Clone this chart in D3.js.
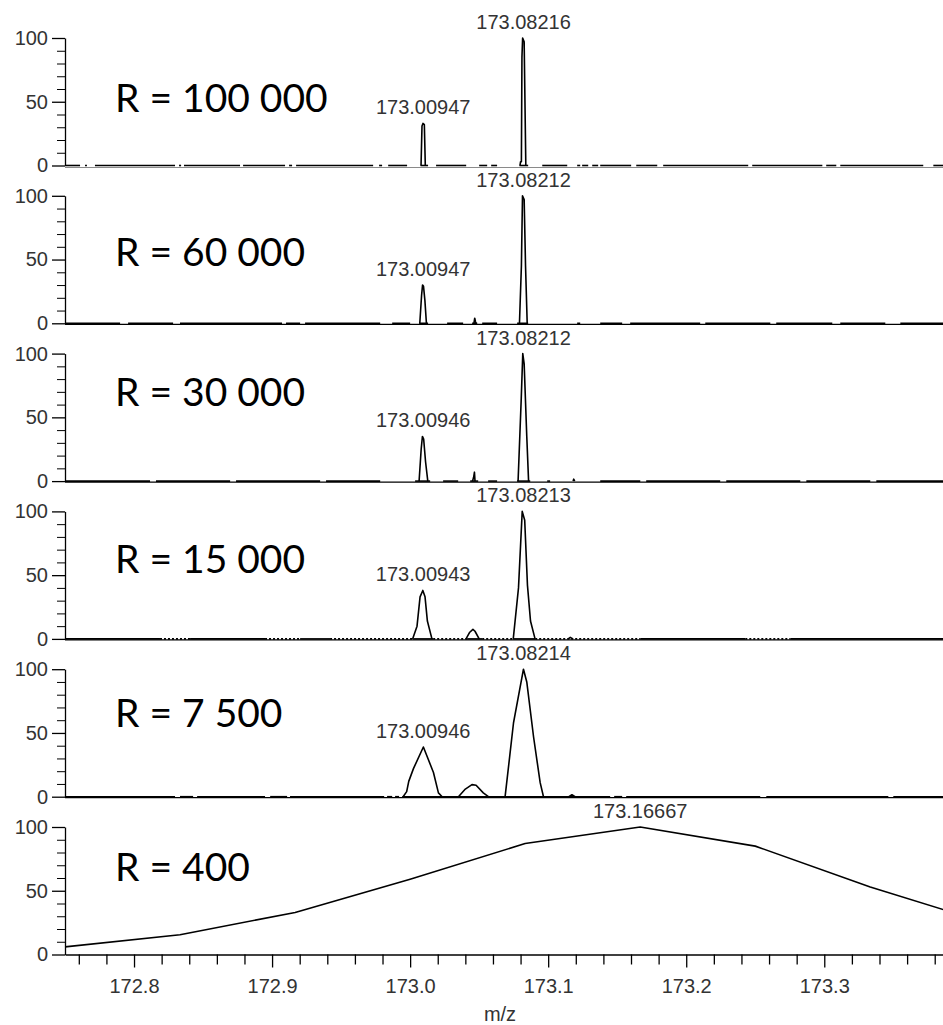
<!DOCTYPE html>
<html>
<head>
<meta charset="utf-8">
<script src="https://cdn.jsdelivr.net/npm/d3@7"></script>
<style>
  body { margin: 0; background: #fff; }
  svg { display: block; }
  .tick text { font-family: "Liberation Sans", Arial, sans-serif; font-size: 20px; fill: #333; }
  .peak-label { font-family: "Liberation Sans", Arial, sans-serif; font-size: 20px; fill: #333; }
  .title { font-family: Lato, "Open Sans", sans-serif; font-size: 39px; fill: #000; }
  .trace { fill: none; stroke: #000; stroke-width: 1.6; stroke-linejoin: round; }
</style>
</head>
<body>
<div id="chart"></div>
<script>
const width = 943;
const height = 1025;
const margin = { top: 38, right: 0, bottom: 70, left: 65 };
const panelStep = 157.8;
const panelHeight = 127.5;

// m/z range shown on the shared x axis
const mzDomain = [172.75, 173.386];
const xMajorTicks = [172.8, 172.9, 173.0, 173.1, 173.2, 173.3];
const xMinorTicks = [172.76, 172.78, 172.82, 172.84, 172.86, 172.88, 172.92, 172.94, 172.96, 172.98,
  173.02, 173.04, 173.06, 173.08, 173.12, 173.14, 173.16, 173.18, 173.22, 173.24, 173.26, 173.28,
  173.32, 173.34, 173.36, 173.38];
const yMajorTicks = [0, 50, 100];
const yMinorTicks = [10, 20, 30, 40, 60, 70, 80, 90];

const resolutions = ["R = 100 000", "R = 60 000", "R = 30 000", "R = 15 000", "R = 7 500", "R = 400"];

// peak profiles, [m/z, relative intensity]
const peaks100k = [
  [[173.0079, 0], [173.0086, 31], [173.0093, 33], [173.0103, 32], [173.0110, 0]],
  [[173.0796, 0], [173.0800, 3], [173.0806, 3], [173.0810, 85], [173.0815, 100], [173.0826, 97], [173.0838, 0]]
];
const peaks60k = [
  [[173.0070, 0], [173.0083, 22], [173.0090, 30], [173.0097, 29], [173.0107, 18], [173.0118, 0]],
  [[173.0462, 0], [173.0468, 4], [173.0474, 1], [173.0478, 0]],
  [[173.0792, 0], [173.0806, 45], [173.0814, 100], [173.0826, 97], [173.0836, 45], [173.0848, 0]]
];
const peaks30k = [
  [[173.0065, 0], [173.0080, 25], [173.0089, 35], [173.0098, 33], [173.0112, 15], [173.0128, 0]],
  [[173.0452, 0], [173.0460, 3], [173.0466, 7], [173.0470, 0]],
  [[173.0782, 0], [173.0805, 65], [173.0816, 100], [173.0826, 92], [173.0845, 35], [173.0858, 0]],
  [[173.1180, 0], [173.1185, 1.5], [173.1192, 0]]
];
const peaks15k = [
  [[173.0018, 0], [173.0050, 10], [173.0072, 33], [173.0092, 38], [173.0108, 33], [173.0125, 14], [173.0158, 0]],
  [[173.0405, 0], [173.0430, 5], [173.0455, 7.5], [173.0470, 6], [173.0500, 0]],
  [[173.0747, 0], [173.0785, 40], [173.0812, 100], [173.0830, 93], [173.0850, 42], [173.0872, 14], [173.0905, 0]],
  [[173.1145, 0], [173.1160, 1.2], [173.1180, 0]]
];
const peaks7500 = [
  [[172.9949, 0], [172.9975, 4], [172.9990, 12], [173.0024, 22], [173.0096, 39], [173.0169, 19], [173.0205, 3], [173.0232, 0]],
  [[173.0350, 0], [173.0400, 6], [173.0448, 9.5], [173.0478, 9], [173.0530, 3], [173.0567, 0]],
  [[173.0688, 0], [173.0749, 58], [173.0821, 100], [173.0845, 90], [173.0894, 47], [173.0942, 11], [173.0966, 0]],
  [[173.1150, 0], [173.1172, 1.5], [173.1195, 0]]
];
const peaks400 = [
  [[172.75, 6], [172.8333, 15.5], [172.9167, 33], [173.0, 59], [173.0833, 87], [173.16667, 100],
   [173.25, 85], [173.3333, 53], [173.4167, 25]]
];

// stretches of the zero line with no data, [from m/z, to m/z]
const gaps100k = [
  [172.7609, 172.7645], [172.7659, 172.7717], [172.8297, 172.8326], [172.8341, 172.8362],
  [172.8768, 172.8790], [172.9094, 172.9123], [172.9145, 172.9174], [172.9732, 172.9775],
  [172.9797, 172.9841], [172.9978, 173.0075], [173.0130, 173.0188], [173.0406, 173.0500],
  [173.0558, 173.0587], [173.0630, 173.0792], [173.0855, 173.0957], [173.1138, 173.1210],
  [173.1232, 173.1246], [173.1290, 173.1319], [173.1362, 173.1377], [173.1601, 173.1638],
  [173.1790, 173.1833], [173.2449, 173.2478], [173.2986, 173.3014], [173.3087, 173.3116],
  [173.3717, 173.3790]
];
const gaps60k = [
  [172.7899, 172.7957], [172.8283, 172.8333], [172.9072, 172.9101], [172.9203, 172.9239],
  [172.9783, 172.9870], [173.0000, 173.0065], [173.0130, 173.0268], [173.0384, 173.0449],
  [173.0486, 173.0522], [173.0630, 173.0775], [173.0855, 173.1210], [173.1232, 173.1377],
  [173.1536, 173.1594], [173.2101, 173.2138], [173.2609, 173.2652], [173.3058, 173.3116],
  [173.3442, 173.3551]
];
const gaps30k = [
  [172.8116, 172.8159], [172.8696, 172.8739], [172.9348, 172.9391], [172.9783, 173.0036],
  [173.0145, 173.0239], [173.0348, 173.0435], [173.0493, 173.0565], [173.0630, 173.0775],
  [173.0870, 173.0993], [173.1014, 173.1377], [173.1667, 173.1710], [173.2246, 173.2290],
  [173.2826, 173.2870], [173.3333, 173.3377]
];
const sparse15k = [
  [172.8188, 172.8406], [172.8949, 172.9203], [172.9420, 173.0022], [173.0167, 173.0413],
  [173.0522, 173.0746], [173.0906, 173.1667], [173.2428, 173.2754]
];
const gaps7500 = [
  [172.8297, 172.8333], [172.8428, 172.8457], [172.8949, 172.8986], [172.9109, 172.9130],
  [172.9812, 172.9833], [172.9870, 172.9891], [172.9920, 172.9942], [173.1449, 173.1478],
  [173.1536, 173.1565], [173.2536, 173.2580], [173.3464, 173.3500]
];

const peakLabels = [
  [["173.00947", 173.00947, 33], ["173.08216", 173.08216, 100]],
  [["173.00947", 173.00947, 30], ["173.08212", 173.08212, 100]],
  [["173.00946", 173.00946, 35], ["173.08212", 173.08212, 100]],
  [["173.00943", 173.00943, 38], ["173.08213", 173.08213, 100]],
  [["173.00946", 173.00946, 39], ["173.08214", 173.08214, 100]],
  [["173.16667", 173.16667, 100]]
];

const panels = [
  { peaks: peaks100k, gaps: gaps100k, dotted: [] },
  { peaks: peaks60k, gaps: gaps60k, dotted: [] },
  { peaks: peaks30k, gaps: gaps30k, dotted: [] },
  { peaks: peaks15k, gaps: [], dotted: sparse15k },
  { peaks: peaks7500, gaps: gaps7500, dotted: [] },
  { peaks: peaks400, gaps: null, dotted: [] }
];

// baseline of the "R = ..." text, in intensity units
const titleLevel = [42, 45, 59, 52, 55, 58];

const svg = d3.select("#chart")
  .append("svg")
  .attr("width", width)
  .attr("height", height);

const x = d3.scaleLinear()
  .domain(mzDomain)
  .range([margin.left, width - margin.right]);

function complement(intervals) {
  const segs = [];
  let start = mzDomain[0];
  intervals.forEach(([a, b]) => {
    segs.push([start, a]);
    start = b;
  });
  segs.push([start, mzDomain[1]]);
  return segs;
}

panels.forEach((panel, i) => {
  const top = margin.top + i * panelStep;
  const y = d3.scaleLinear()
    .domain([0, 100])
    .range([top + panelHeight, top]);

  const line = d3.line()
    .x(d => x(d[0]))
    .y(d => y(d[1]));

  const g = svg.append("g").attr("class", "panel");

  // zero line under the trace
  if (i < 5) {
    g.append("line")
      .attr("x1", margin.left)
      .attr("x2", width)
      .attr("y1", y(0) + (i === 0 ? 2 : 1))
      .attr("y2", y(0) + (i === 0 ? 2 : 1))
      .attr("stroke", i === 0 ? "#8a8a8a" : "#000")
      .attr("stroke-width", i === 0 ? 1 : 1.3);
  }

  // y axis, minor then major ticks
  g.append("g")
    .attr("transform", `translate(${margin.left},0)`)
    .call(d3.axisLeft(y).tickValues(yMinorTicks).tickSize(8).tickFormat(""))
    .call(a => a.select(".domain").remove())
    .selectAll("line").attr("stroke", "#000");

  g.append("g")
    .attr("transform", `translate(${margin.left},0)`)
    .call(d3.axisLeft(y).tickValues(yMajorTicks).tickSize(13).tickSizeOuter(0).tickPadding(4))
    .call(a => a.selectAll("line, path").attr("stroke", "#000").attr("stroke-width", 1.3));

  // data along the zero line
  if (panel.gaps) {
    g.selectAll(".base-solid")
      .data(complement(panel.dotted.length ? panel.dotted : panel.gaps))
      .join("path")
      .attr("class", "trace base-solid")
      .attr("d", d => line([[d[0], 0], [d[1], 0]]));

    g.selectAll(".base-dotted")
      .data(panel.dotted)
      .join("path")
      .attr("class", "trace base-dotted")
      .attr("stroke-width", 2)
      .attr("stroke-dasharray", "2,2")
      .attr("d", d => line([[d[0], 0], [d[1], 0]]));
  }

  g.selectAll(".peak")
    .data(panel.peaks)
    .join("path")
    .attr("class", "trace peak")
    .attr("d", line);

  g.selectAll(".peak-label")
    .data(peakLabels[i])
    .join("text")
    .attr("class", "peak-label")
    .attr("x", d => x(d[1]))
    .attr("y", d => y(d[2]) - 9)
    .attr("text-anchor", "middle")
    .text(d => d[0]);

  g.append("text")
    .attr("class", "title")
    .attr("x", 115)
    .attr("y", y(titleLevel[i]))
    .text(resolutions[i]);

  if (i === 5) {
    g.append("g")
      .attr("transform", `translate(0,${y(0)})`)
      .call(d3.axisBottom(x).tickValues(xMinorTicks).tickSize(10).tickFormat(""))
      .call(a => a.select(".domain").remove())
      .selectAll("line").attr("stroke", "#000").attr("stroke-width", 1.3);

    g.append("g")
      .attr("transform", `translate(0,${y(0)})`)
      .call(d3.axisBottom(x).tickValues(xMajorTicks).tickSize(13).tickSizeOuter(0)
        .tickPadding(11).tickFormat(d3.format(".1f")))
      .call(a => a.selectAll("line, path").attr("stroke", "#000").attr("stroke-width", 1.3));

    g.append("text")
      .attr("class", "peak-label")
      .attr("x", 500)
      .attr("y", 1021)
      .attr("text-anchor", "middle")
      .text("m/z");
  }
});
</script>
</body>
</html>
